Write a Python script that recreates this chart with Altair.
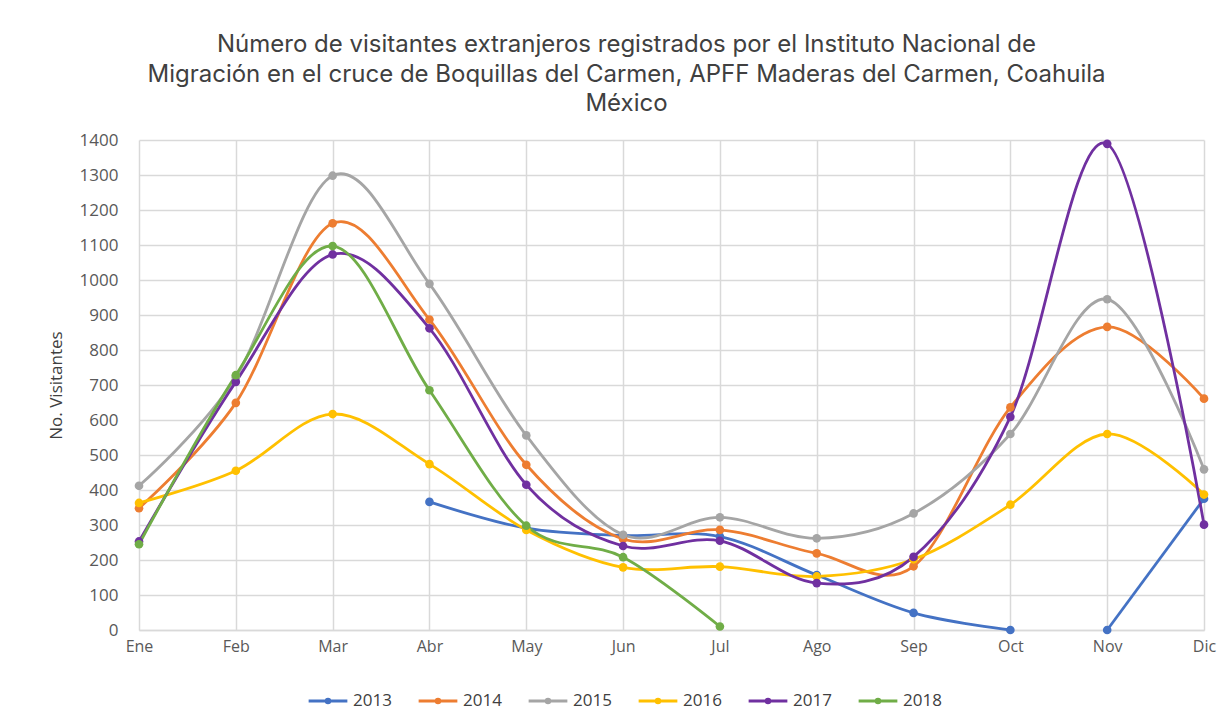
import altair as alt
import pandas as pd

months = ["Ene", "Feb", "Mar", "Abr", "May", "Jun", "Jul", "Ago", "Sep", "Oct", "Nov", "Dic"]
years = ["2013", "2014", "2015", "2016", "2017", "2018"]
colors = ["#4472C4", "#ED7D31", "#A5A5A5", "#FFC000", "#7030A0", "#70AD47"]

v2013 = [None, None, None, 366, 291, 270, 267, 157, 49, 0, 0, 375]
v2014 = [348, 649, 1162, 887, 472, 260, 286, 219, 182, 636, 866, 661]
v2015 = [412, 722, 1298, 989, 556, 272, 322, 262, 333, 560, 945, 459]
v2016 = [363, 455, 617, 474, 286, 179, 181, 153, 202, 358, 560, 387]
v2017 = [253, 709, 1073, 862, 415, 240, 255, 134, 209, 609, 1389, 301]
v2018 = [245, 728, 1097, 685, 298, 208, 10, None, None, None, None, None]

# months at which a series starts a new (disconnected) segment
breaks = {"2013": ["Nov"]}

series = dict(zip(years, [v2013, v2014, v2015, v2016, v2017, v2018]))
rows = []
for yr, vals in series.items():
    seg = 0
    prev_none = True
    for m, v in zip(months, vals):
        if v is None:
            prev_none = True
            continue
        if prev_none or m in breaks.get(yr, []):
            seg += 1
        prev_none = False
        rows.append({"Mes": m, "Visitantes": v, "Año": yr, "seg": f"{yr}-{seg}"})
df = pd.DataFrame(rows)

FONT = "Open Sans"
TFONT = "Inter"

x = alt.X("Mes:O", sort=months, scale=alt.Scale(type="point", domain=months, padding=0),
          axis=alt.Axis(title=None, labelAngle=0, ticks=False, labelPadding=8,
                        grid=True, gridColor="#d9d9d9", gridWidth=1.5,
                        domainColor="#d9d9d9", domainWidth=1.5,
                        labelFont=FONT, labelFontSize=16, labelColor="#595959"))
y = alt.Y("Visitantes:Q", scale=alt.Scale(domain=[0, 1400], nice=False),
          axis=alt.Axis(title="No. Visitantes", values=list(range(0, 1401, 100)), format="d",
                        ticks=False, domain=False, labelPadding=21,
                        grid=True, gridColor="#d9d9d9", gridWidth=1.5,
                        labelFont=FONT, labelFontSize=17, labelColor="#595959",
                        titleFont=FONT, titleFontSize=17, titleFontWeight="normal",
                        titleColor="#404040", titlePadding=14))
color = alt.Color("Año:N", scale=alt.Scale(domain=years, range=colors),
                  legend=alt.Legend(title=None, orient="none", direction="horizontal",
                                    legendX=168, legendY=540,
                                    symbolType="M-1,0L1,0M-0.09,0A0.09,0.09 0 1,0 0.09,0A0.09,0.09 0 1,0 -0.09,0",
                                    symbolSize=1500, symbolStrokeWidth=3,
                                    labelFont=FONT, labelFontSize=17, labelColor="#404040",
                                    labelOffset=4, columnPadding=20))

base = alt.Chart(df)
lines = base.mark_line(interpolate="cardinal", strokeWidth=2.8).encode(
    x=x, y=y, color=color, detail="seg:N")
points = base.mark_circle(size=75, opacity=1).encode(
    x=x, y=y, color=alt.Color("Año:N", scale=alt.Scale(domain=years, range=colors), legend=None))

chart = (lines + points).properties(
    width=1065, height=490,
    autosize=alt.AutoSizeParams(type="none"),
    padding={"left": 131, "top": 132, "right": 15, "bottom": 82},
    title=alt.TitleParams(
        text=["Número de visitantes extranjeros registrados por el Instituto Nacional de",
              "Migración en el cruce de Boquillas del Carmen, APFF Maderas del Carmen, Coahuila",
              "México"],
        font=TFONT, fontSize=24, fontWeight="normal", color="#404040",
        anchor="middle", dx=-45, offset=15, lineHeight=29.5),
).configure_view(stroke=None)

chart.save("out.html", embed_options={"renderer": "svg", "actions": False})
